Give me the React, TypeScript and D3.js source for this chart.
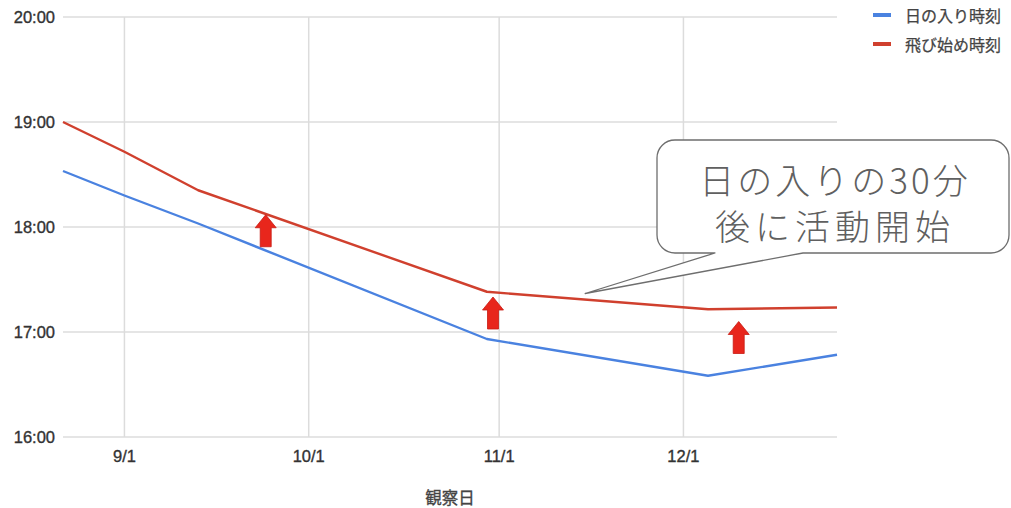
import React from "react";
import * as d3 from "d3";

// Observation dates and times (HH:MM)
const obsDates = ["2020-08-22", "2020-09-01", "2020-09-13", "2020-10-30", "2020-12-05", "2020-12-26"];
const sunsetTimes = ["18:32", "18:18", "18:02", "16:56", "16:35", "16:47"];
const flightTimes = ["19:00", "18:43", "18:21", "17:23", "17:13", "17:14"];

const xTickDates = ["2020-09-01", "2020-10-01", "2020-11-01", "2020-12-01"];
const xTickLabels = ["9/1", "10/1", "11/1", "12/1"];
const yTickTimes = ["16:00", "17:00", "18:00", "19:00", "20:00"];

const seriesNames = ["日の入り時刻", "飛び始め時刻"];
const seriesColors = ["#4a82e0", "#d0402e"];

// Upward arrows marking the gap between the two lines (tip date / time)
const arrowDates = ["2020-09-24", "2020-10-31", "2020-12-10"];
const arrowTimes = ["18:07", "17:20", "17:06"];

const calloutLines = ["日の入りの30分", "後に活動開始"];
const calloutTipDate = "2020-11-15";
const calloutTipTime = "17:22";

const parseDate = d3.timeParse("%Y-%m-%d");
const toMinutes = (t: string) => {
  const [h, m] = t.split(":").map(Number);
  return h * 60 + m;
};

const W = 1011;
const H = 508;
const left = 63;
const right = 837;
const top = 17;
const bottom = 437;

const latin = "'Liberation Sans', Arial, sans-serif";
const cjk = "'Noto Sans CJK JP', 'Noto Sans', sans-serif";

export default function App() {
  const x = d3
    .scaleTime()
    .domain([parseDate("2020-08-22")!, parseDate("2020-12-26")!])
    .range([left, right]);
  const y = d3.scaleLinear().domain([16 * 60, 20 * 60]).range([bottom, top]);

  const dates = obsDates.map((d) => parseDate(d)!);
  const series = [sunsetTimes, flightTimes].map((arr) =>
    arr.map((t, i) => ({ d: dates[i], v: toMinutes(t) }))
  );

  const line = d3
    .line<{ d: Date; v: number }>()
    .x((p) => x(p.d))
    .y((p) => y(p.v));

  // callout geometry
  const bx0 = 657, bx1 = 1009, by0 = 140, by1 = 253, r = 18;
  const tipX = x(parseDate(calloutTipDate)!);
  const tipY = y(toMinutes(calloutTipTime));
  const tailL = 715, tailR = 803;
  const calloutPath = [
    `M${bx0 + r},${by0}`,
    `H${bx1 - r}`,
    `A${r},${r} 0 0 1 ${bx1},${by0 + r}`,
    `V${by1 - r}`,
    `A${r},${r} 0 0 1 ${bx1 - r},${by1}`,
    `H${tailR}`,
    `L${tipX},${tipY}`,
    `L${tailL},${by1}`,
    `H${bx0 + r}`,
    `A${r},${r} 0 0 1 ${bx0},${by1 - r}`,
    `V${by0 + r}`,
    `A${r},${r} 0 0 1 ${bx0 + r},${by0}`,
    "Z",
  ].join(" ");

  const arrowPath = (tx: number, ty: number) => {
    const headH = 13, headW = 10.5, shaftW = 5.5, len = 32;
    return [
      `M${tx},${ty}`,
      `L${tx + headW},${ty + headH}`,
      `L${tx + shaftW},${ty + headH}`,
      `L${tx + shaftW},${ty + len}`,
      `L${tx - shaftW},${ty + len}`,
      `L${tx - shaftW},${ty + headH}`,
      `L${tx - headW},${ty + headH}`,
      "Z",
    ].join(" ");
  };

  return (
    <svg
      width={W}
      height={H}
      viewBox={`0 0 ${W} ${H}`}
      style={{ position: "absolute", left: 0, top: 0, background: "#fff" }}
    >
      {/* horizontal grid + y labels */}
      {yTickTimes.map((t) => {
        const yy = y(toMinutes(t));
        return (
          <g key={t}>
            <line x1={left} x2={right} y1={yy} y2={yy} stroke="#dcdcdc" strokeWidth={1.5} />
            <text
              x={55}
              y={yy}
              textAnchor="end"
              dominantBaseline="central"
              fontFamily={latin}
              fontSize={16.5}
              fill="#333"
              stroke="#333"
              strokeWidth={0.35}
            >
              {t}
            </text>
          </g>
        );
      })}

      {/* vertical grid + x labels */}
      {xTickDates.map((d, i) => {
        const xx = x(parseDate(d)!);
        return (
          <g key={d}>
            <line x1={xx} x2={xx} y1={top} y2={bottom} stroke="#dcdcdc" strokeWidth={1.5} />
            <text
              x={xx}
              y={456}
              textAnchor="middle"
              dominantBaseline="central"
              fontFamily={latin}
              fontSize={16.5}
              fill="#333"
              stroke="#333"
              strokeWidth={0.35}
            >
              {xTickLabels[i]}
            </text>
          </g>
        );
      })}

      <text
        x={(left + right) / 2}
        y={497}
        textAnchor="middle"
        dominantBaseline="central"
        fontFamily={cjk}
        fontSize={16.5}
        fill="#444"
        stroke="#444"
        strokeWidth={0.3}
      >
        観察日
      </text>

      {/* series lines */}
      {series.map((s, i) => (
        <path
          key={i}
          d={line(s) ?? ""}
          fill="none"
          stroke={seriesColors[i]}
          strokeWidth={2.4}
          strokeLinejoin="round"
        />
      ))}

      {/* arrows */}
      {arrowDates.map((d, i) => (
        <path
          key={d}
          d={arrowPath(x(parseDate(d)!), y(toMinutes(arrowTimes[i])))}
          fill="#e8261c"
          stroke="#c81a12"
          strokeWidth={0.8}
        />
      ))}

      {/* callout */}
      <path d={calloutPath} fill="#fff" stroke="#6e6e6e" strokeWidth={1.3} strokeLinejoin="round" />
      <text
        x={835}
        y={178}
        textAnchor="middle"
        dominantBaseline="central"
        fontFamily={cjk}
        fontSize={35}
        fontWeight={300}
        fill="#606060"
        letterSpacing={3}
      >
        {calloutLines[0]}
      </text>
      <text
        x={835}
        y={224}
        textAnchor="middle"
        dominantBaseline="central"
        fontFamily={cjk}
        fontSize={35}
        fontWeight={300}
        fill="#606060"
        letterSpacing={5}
      >
        {calloutLines[1]}
      </text>

      {/* legend */}
      {seriesNames.map((n, i) => {
        const ly = 15 + i * 29;
        return (
          <g key={n}>
            <line x1={873} x2={891} y1={ly} y2={ly} stroke={seriesColors[i]} strokeWidth={4} />
            <text
              x={905}
              y={ly}
              dominantBaseline="central"
              fontFamily={cjk}
              fontSize={16}
              fill="#444"
              stroke="#444"
              strokeWidth={0.25}
            >
              {n}
            </text>
          </g>
        );
      })}
    </svg>
  );
}
